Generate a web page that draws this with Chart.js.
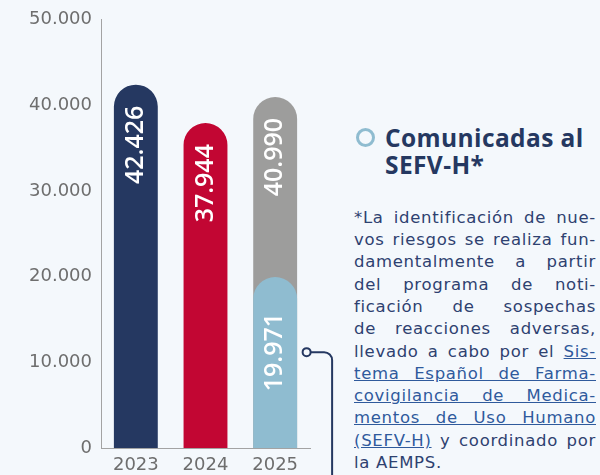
<!DOCTYPE html>
<html lang="es">
<head>
<meta charset="utf-8">
<script src="https://cdn.jsdelivr.net/npm/chart.js@4"></script>
<style>
  html, body { margin: 0; padding: 0; }
  body { width: 600px; height: 475px; background: #f4f8fc; position: relative; overflow: hidden; }
  #chart { position: absolute; left: 0; top: 0; }
  #leyenda { position: absolute; left: 356px; top: 123.6px; width: 244px; }
  #leyenda .anillo { position: absolute; left: 0; top: 4px; width: 19px; height: 19px; box-sizing: border-box;
    border: 3.5px solid #8fbcd0; border-radius: 50%; }
  #leyenda .titulo { margin-left: 29px; font: 700 24.5px/27.5px "Open Sans", sans-serif; letter-spacing: 0.4px; color: #253861; }
  #nota { position: absolute; left: 354px; top: 206.8px; width: 242px; font: 400 16.5px/22.3px "DejaVu Sans", sans-serif;
    letter-spacing: 0.7px; color: #2e4170; }
  #nota div { text-align: justify; text-align-last: justify; white-space: nowrap; }
  #nota div.ultima { text-align-last: left; }
  #nota a { color: #2f5a9c; text-decoration: underline; }
</style>
</head>
<body>
<canvas id="chart" width="340" height="475"></canvas>

<div id="leyenda">
  <div class="anillo"></div>
  <div class="titulo">Comunicadas al<br>SEFV-H*</div>
</div>

<div id="nota">
  <div>*La identificación de nue-</div>
  <div>vos riesgos se realiza fun-</div>
  <div>damentalmente a partir</div>
  <div>del programa de noti-</div>
  <div>ficación de sospechas</div>
  <div>de reacciones adversas,</div>
  <div>llevado a cabo por el <a>Sis-</a></div>
  <div><a>tema Español de Farma-</a></div>
  <div><a>covigilancia de Medica-</a></div>
  <div><a>mentos de Uso Humano</a></div>
  <div><a>(SEFV-H)</a> y coordinado por</div>
  <div class="ultima">la AEMPS.</div>
</div>

<script>
// datos
const years = ['2023', '2024', '2025'];
const totalNotif = [42426, 37944, 40990];
const sefvNotif = [null, null, 19971];
const barColors = ['#253861', '#c20633', '#9d9d9c'];
const sefvColor = '#8fbcd0';
const yMax = 50000;
const yStep = 10000;

function puntos(v) {
    return String(v).replace(/\B(?=(\d{3})+(?!\d))/g, '.');
}

// etiquetas giradas dentro de las barras + conector
const valueLabels = {
    id: 'valueLabels',
    afterDatasetsDraw(chart) {
        const ctx = chart.ctx;
        chart.data.datasets.forEach((ds, i) => {
            const meta = chart.getDatasetMeta(i);
            meta.data.forEach((bar, j) => {
                const v = ds.data[j];
                if (v == null) return;
                ctx.save();
                ctx.translate(bar.x, bar.y + ds.labelPad);
                ctx.rotate(-Math.PI / 2);
                ctx.textAlign = 'right';
                ctx.textBaseline = 'middle';
                ctx.fillStyle = '#ffffff';
                ctx.font = '600 25px "Open Sans"';
                ctx.fillText(puntos(v), 0, 0);
                ctx.restore();
            });
        });

        // conector desde la barra azul claro
        const bar = chart.getDatasetMeta(0).data[2];
        ctx.save();
        ctx.font = '600 25px "Open Sans"';
        const w = ctx.measureText(puntos(sefvNotif[2])).width;
        const cy = bar.y + chart.data.datasets[0].labelPad + w / 2;
        const cx = bar.x + bar.width / 2 + 9.5;
        const vx = cx + 25.5;
        ctx.strokeStyle = '#253861';
        ctx.lineWidth = 2;
        ctx.beginPath();
        ctx.moveTo(cx + 4, cy);
        ctx.lineTo(vx - 8, cy);
        ctx.arcTo(vx, cy, vx, cy + 8, 8);
        ctx.lineTo(vx, chart.height);
        ctx.stroke();
        ctx.beginPath();
        ctx.arc(cx, cy, 4, 0, Math.PI * 2);
        ctx.fillStyle = '#f4f8fc';
        ctx.fill();
        ctx.stroke();
        ctx.restore();
    }
};

const ctx = document.getElementById('chart').getContext('2d');
new Chart(ctx, {
    type: 'bar',
    data: {
        labels: years,
        datasets: [
            {
                label: 'Comunicadas al SEFV-H*',
                data: sefvNotif,
                backgroundColor: sefvColor,
                labelPad: 36
            },
            {
                label: 'Total',
                data: totalNotif,
                backgroundColor: barColors,
                labelPad: 21
            }
        ]
    },
    options: {
        responsive: false,
        animation: false,
        events: [],
        layout: { padding: { top: 15, right: 30, left: 0, bottom: 0 } },
        datasets: {
            bar: {
                grouped: false,
                barPercentage: 0.63,
                categoryPercentage: 1,
                borderSkipped: 'start',
                borderRadius: { topLeft: 100, topRight: 100, bottomLeft: 0, bottomRight: 0 }
            }
        },
        plugins: {
            legend: { display: false },
            tooltip: { enabled: false }
        },
        scales: {
            x: {
                offset: true,
                grid: { display: false, drawTicks: false },
                border: { display: true, color: '#a3a3a3', width: 1 },
                ticks: { color: '#6e6e6e', padding: 7, font: { family: 'DejaVu Sans', size: 18 } },
                afterFit(scale) { scale.height = 27; }
            },
            y: {
                min: 0,
                max: yMax,
                grid: { display: false, drawTicks: false },
                border: { display: true, color: '#a3a3a3', width: 1 },
                ticks: {
                    stepSize: yStep,
                    padding: 9,
                    color: '#6e6e6e',
                    font: { family: 'DejaVu Sans', size: 18 },
                    callback: v => puntos(v)
                },
                afterFit(scale) { scale.width = 101; }
            }
        }
    },
    plugins: [valueLabels]
});
</script>
</body>
</html>
